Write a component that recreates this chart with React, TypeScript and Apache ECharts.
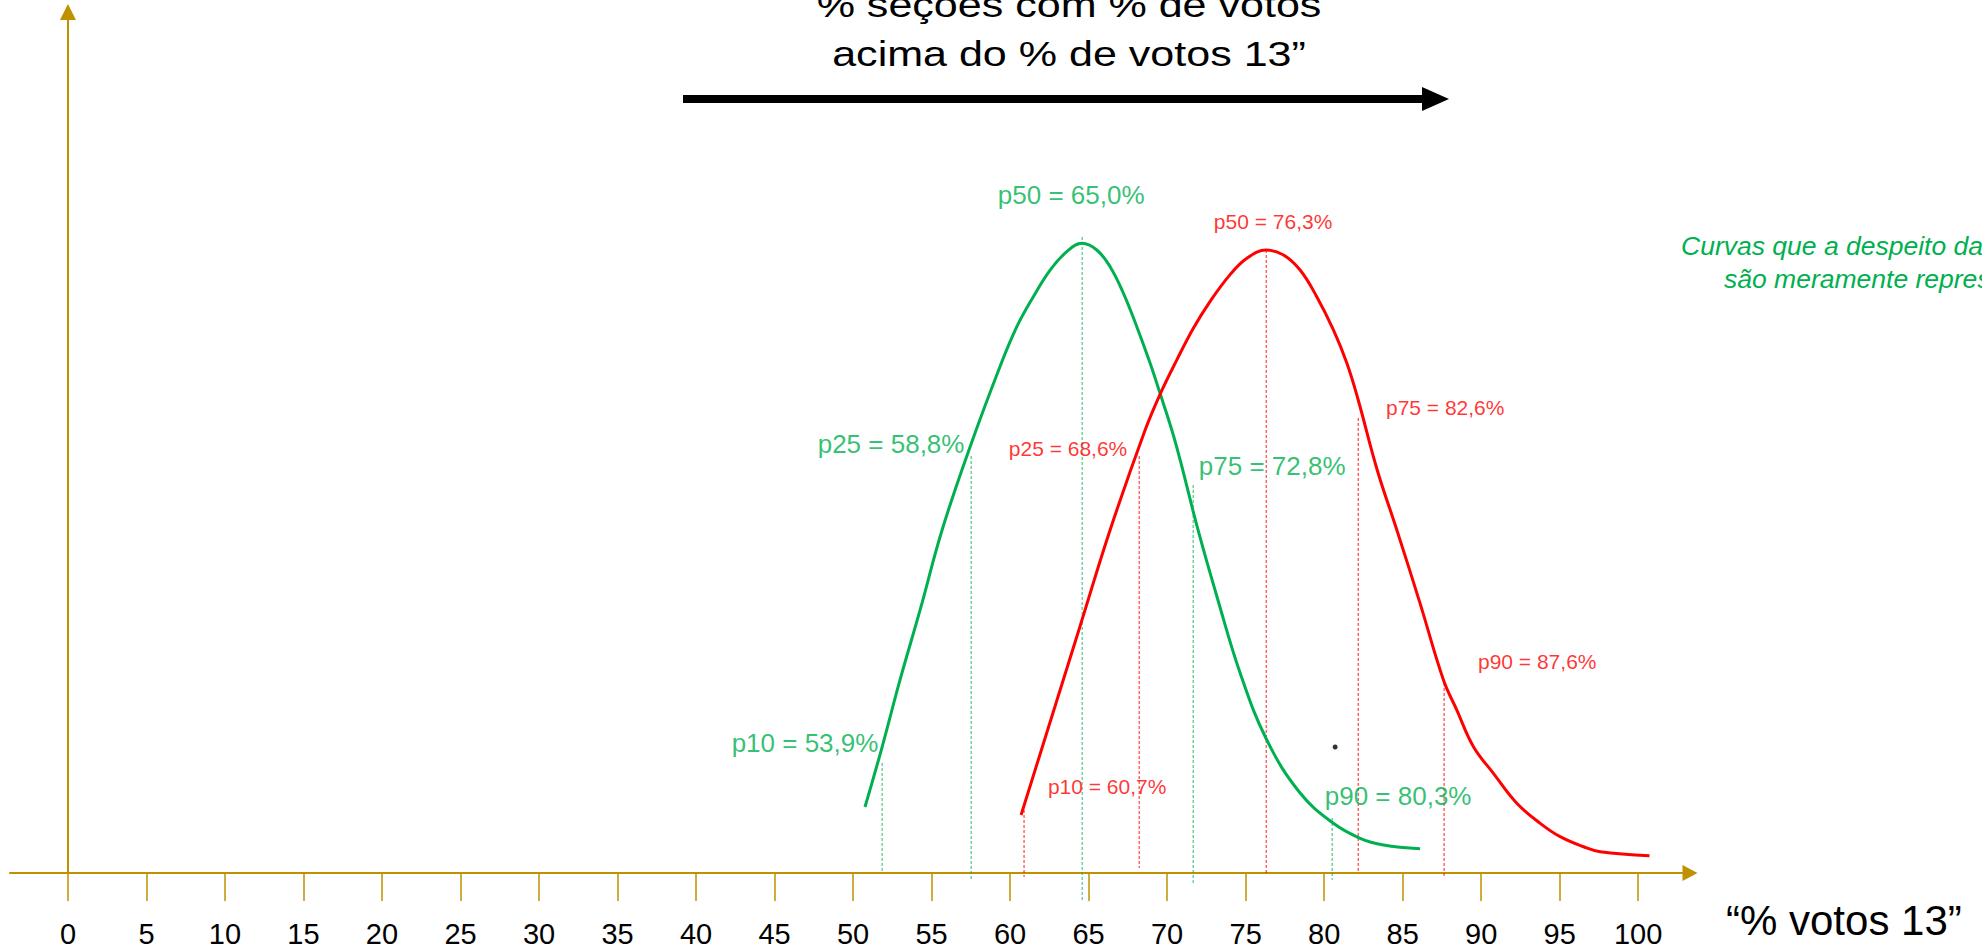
import React, { useEffect, useRef } from "react";
import * as echarts from "echarts";

// ---- data (x = "% votos 13", y = arbitrary density units) ----
const tickValues = [0, 5, 10, 15, 20, 25, 30, 35, 40, 45, 50, 55, 60, 65, 70, 75, 80, 85, 90, 95, 100];

const greenCurve: [number, number][] = [
  [50.76, 7.67], [51.85, 14.63], [52.99, 22.42], [54.27, 30.55], [55.67, 39.84],
  [57.45, 49.48], [59.36, 58.83], [60.43, 63.45], [61.48, 66.93], [62.55, 70.03],
  [63.61, 72.16], [64.57, 73.14], [65.52, 72.36], [66.37, 70.42], [67.22, 67.33],
  [68.07, 63.45], [68.92, 59.2], [69.55, 55.71], [70.3, 51.45], [70.83, 47.97],
  [71.97, 39.84], [73.18, 32.06], [74.65, 23.23], [76.35, 15.45], [78.47, 9.29],
  [80.59, 5.77], [82.29, 4.03], [83.78, 3.25], [86.11, 2.82],
];

const redCurve: [number, number][] = [
  [60.7, 6.74], [62.55, 17.54], [64.46, 28.69], [66.37, 39.84], [68.6, 51.45],
  [69.55, 55.6], [70.62, 59.6], [71.68, 63.3], [72.74, 66.4], [74.01, 69.5],
  [75.08, 71.4], [76.31, 72.36], [77.41, 71.78], [78.47, 70.03], [79.53, 66.93],
  [80.59, 63.07], [81.45, 59.2], [82.17, 54.94], [83.38, 46.81], [84.63, 39.84],
  [86.11, 31.32], [87.6, 22.42], [88.45, 18.93], [89.51, 14.67], [90.78, 11.58],
  [92.27, 8.1], [93.76, 5.77], [95.03, 4.22], [96.52, 3.05], [97.58, 2.47],
  [100.72, 2.0],
];

// percentile guide lines: [x, top, bottom]
const greenGuides: [number, number, number][] = [
  [51.85, 12.78, 0], [57.52, 48.43, -0.81], [64.59, 73.87, -3.14], [71.66, 45.06, -1.39], [80.51, 6.39, -0.81],
];
const redGuides: [number, number, number][] = [
  [60.89, 7.32, -0.46], [68.22, 48.43, 0.58], [76.31, 72.36, 0], [82.17, 52.85, 0], [87.64, 22.07, -0.46],
];

const greenLabelText = ["p10 = 53,9%", "p25 = 58,8%", "p50 = 65,0%", "p75 = 72,8%", "p90 = 80,3%"];
const greenLabelPos: [number, number][] = [[46.94, 15.1], [52.42, 49.83], [63.89, 78.75], [76.69, 47.27], [84.71, 8.94]];
const redLabelText = ["p10 = 60,7%", "p25 = 68,6%", "p50 = 76,3%", "p75 = 82,6%", "p90 = 87,6%"];
const redLabelPos: [number, number][] = [[66.18, 9.99], [63.69, 49.36], [76.75, 75.61], [87.71, 54.01], [93.57, 24.51]];

const blackDot: [number, number][] = [[80.7, 14.63]];

const titleLines = ["% seções com % de votos", "acima do % de votos 13”"];
const noteLines = ["Curvas que a despeito da forma", "são meramente representativas"];
const xAxisName = "“% votos 13”";

const GREEN = "#00b050";
const RED = "#ff0000";
const GOLD = "#bf9000";
const FONT = '"Liberation Sans", Arial, Helvetica, sans-serif';

export default function App() {
  const ref = useRef<HTMLDivElement>(null);

  useEffect(() => {
    if (!ref.current) return;
    const chart = echarts.init(ref.current, null, { renderer: "svg" });

    const guideSeries = (guides: [number, number, number][], color: string, opacity: number) =>
      guides.map((g) => ({
        type: "line",
        data: [[g[0], g[1]], [g[0], g[2]]],
        symbol: "none",
        silent: true,
        clip: false,
        lineStyle: { color, width: 1, type: [3, 2], opacity },
        z: 2,
      }));

    const labelSeries = (texts: string[], pos: [number, number][], color: string, size: number) => ({
      type: "scatter",
      data: texts.map((t, i) => ({ name: t, value: pos[i] })),
      symbolSize: 1,
      itemStyle: { color: "rgba(0,0,0,0)" },
      silent: true,
      clip: false,
      label: {
        show: true,
        position: "inside",
        formatter: "{b}",
        color,
        fontSize: size,
        fontFamily: FONT,
        align: "center",
        verticalAlign: "middle",
      },
      z: 5,
    });

    const option: any = {
      animation: false,
      backgroundColor: "#ffffff",
      grid: { left: 10, right: 292, top: 12, bottom: 76, containLabel: false, outerBoundsMode: "none" },
      xAxis: {
        type: "value",
        min: -3.69,
        max: 103.3,
        axisLine: {
          show: true,
          onZero: false,
          symbol: ["none", "triangle"],
          symbolSize: [16, 15],
          lineStyle: { color: GOLD, width: 2 },
        },
        axisTick: { show: true, customValues: tickValues, length: 28, lineStyle: { color: GOLD, width: 1.5 } },
        axisLabel: {
          show: true,
          customValues: tickValues,
          margin: 46,
          fontSize: 29,
          lineHeight: 29,
          color: "#000",
          fontFamily: FONT,
        },
        splitLine: { show: false },
        name: xAxisName,
        nameLocation: "end",
        nameGap: 36,
        nameTextStyle: {
          fontSize: 42,
          color: "#000",
          fontFamily: FONT,
          align: "left",
          verticalAlign: "top",
          lineHeight: 42,
          padding: [26, 0, 0, 0],
        },
      },
      yAxis: {
        type: "value",
        min: 0,
        max: 100,
        axisLine: {
          show: true,
          onZero: true,
          symbol: ["none", "triangle"],
          symbolSize: [16, 16],
          lineStyle: { color: GOLD, width: 2 },
        },
        axisTick: { show: false },
        axisLabel: { show: false },
        splitLine: { show: false },
      },
      graphic: [
        {
          type: "text",
          x: 1069,
          y: 4.5,
          scaleX: 1.23,
          style: { text: titleLines[0], fontSize: 35, fontFamily: FONT, fill: "#000", align: "center", verticalAlign: "middle" },
        },
        {
          type: "text",
          x: 1069,
          y: 54,
          scaleX: 1.23,
          style: { text: titleLines[1], fontSize: 35, fontFamily: FONT, fill: "#000", align: "center", verticalAlign: "middle" },
        },
        { type: "line", shape: { x1: 683, y1: 99, x2: 1428, y2: 99 }, style: { stroke: "#000", lineWidth: 8 } },
        { type: "polygon", shape: { points: [[1422, 87], [1449, 99], [1422, 111]] }, style: { fill: "#000" } },
        {
          type: "text",
          x: 1681,
          y: 246,
          style: { text: noteLines[0], fontSize: 26.5, fontStyle: "italic", fontFamily: FONT, fill: GREEN, align: "left", verticalAlign: "middle" },
        },
        {
          type: "text",
          x: 1724,
          y: 279,
          style: { text: noteLines[1], fontSize: 26.5, fontStyle: "italic", fontFamily: FONT, fill: GREEN, align: "left", verticalAlign: "middle" },
        },
      ],
      series: [
        ...guideSeries(greenGuides, GREEN, 0.85),
        ...guideSeries(redGuides, RED, 0.9),
        {
          type: "line",
          name: "verde",
          data: greenCurve,
          smooth: 0.4,
          symbol: "none",
          lineStyle: { color: GREEN, width: 3 },
          z: 3,
        },
        {
          type: "line",
          name: "vermelho",
          data: redCurve,
          smooth: 0.4,
          symbol: "none",
          lineStyle: { color: RED, width: 3 },
          z: 3,
        },
        labelSeries(greenLabelText, greenLabelPos, GREEN, 26),
        labelSeries(redLabelText, redLabelPos, RED, 21),
        {
          type: "scatter",
          data: blackDot,
          symbolSize: 5,
          itemStyle: { color: "#000" },
          silent: true,
          z: 4,
        },
      ],
    };

    chart.setOption(option);
    return () => chart.dispose();
  }, []);

  return (
    <div
      ref={ref}
      style={{ position: "absolute", left: 0, top: 0, width: 1982, height: 949, background: "#fff" }}
    />
  );
}
